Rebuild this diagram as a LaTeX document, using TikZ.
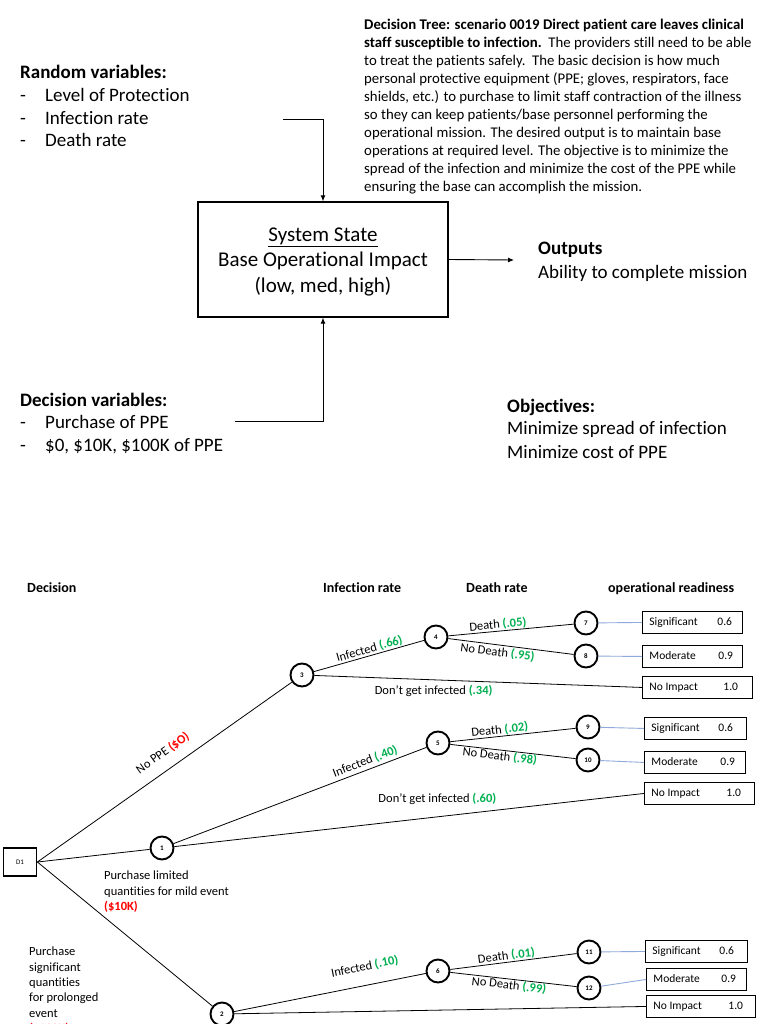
\documentclass[tikz,border=0pt]{standalone}
\usepackage{fontspec}
\setmainfont{Carlito}[Ligatures=NoCommon]
\usetikzlibrary{arrows.meta}
\definecolor{pgreen}{RGB}{0,176,80}
\definecolor{pred}{RGB}{255,0,0}
\definecolor{pblue}{RGB}{143,170,220}
\newcommand\greenval[1]{\textcolor{pgreen}{\bfseries #1}}
\newcommand\redval[1]{\textcolor{pred}{\bfseries #1}}
\newcommand\resbox[7]{%
  \node[rbox, anchor=north west] (#1) at (#2,#3) {\makebox[#4pt][l]{\hspace{7pt}\makebox[#5pt][l]{#6}#7}};}
\tikzset{
  chancenode/.style={circle, draw, line width=1.9pt, minimum size=23pt, inner sep=0pt, font=\bfseries\fontsize{7}{8}\selectfont},
  decbox/.style={rectangle, draw, line width=1.8pt, minimum width=33pt, minimum height=28pt, inner sep=0pt, font=\fontsize{7}{8}\selectfont},
  rbox/.style={rectangle, draw, line width=0.9pt, inner sep=0pt, minimum height=22pt, text height=8pt, text depth=2.5pt, font=\fontsize{11.5}{13}\selectfont},
  treeline/.style={draw, line width=0.8pt},
  bluelink/.style={draw=pblue, line width=0.9pt},
  lbl/.style={font=\fontsize{12.5}{15.3}\selectfont, inner sep=0.5pt},
  hdr/.style={font=\bfseries\fontsize{14}{17}\selectfont, anchor=west, inner sep=0pt, text height=10pt, text depth=3pt},
  bigtxt/.style={font=\fontsize{19}{23}\selectfont, anchor=base west, inner sep=0pt},
  bigbold/.style={font=\bfseries\fontsize{19}{23}\selectfont, anchor=base west, inner sep=0pt},
  arr/.style={-{Latex[length=6pt,width=5pt]}, line width=0.9pt},
}
\begin{document}
\begin{tikzpicture}[x=1pt,y=-1pt]
\useasboundingbox[fill=white] (0,0) rectangle (768,1024);

% ---------- upper part ----------
\node[anchor=north west, inner sep=0pt, align=left, font=\fontsize{14.8}{18}\selectfont] (desc) at (364,19)
{\textbf{Decision Tree: scenario 0019 Direct patient care leaves clinical}\\
\textbf{staff susceptible to infection.}\ \ The providers still need to be able\\
to treat the patients safely.\ \ The basic decision is how much\\
personal protective equipment (PPE; gloves, respirators, face\\
shields, etc.) to purchase to limit staff contraction of the illness\\
so they can keep patients/base personnel performing the\\
operational mission. The desired output is to maintain base\\
operations at required level. The objective is to minimize the\\
spread of the infection and minimize the cost of the PPE while\\
ensuring the base can accomplish the mission.};

\node[bigbold] (rvt) at (20,79) {Random variables:};
\node[bigtxt] (rv1) at (20,102) {\makebox[25pt][l]{-}Level of Protection};
\node[bigtxt] (rv2) at (20,125) {\makebox[25pt][l]{-}Infection rate};
\node[bigtxt] (rv3) at (20,147) {\makebox[25pt][l]{-}Death rate};

\node[bigbold] (dvt) at (20,406) {Decision variables:};
\node[bigtxt] (dv1) at (20,428) {\makebox[25pt][l]{-}Purchase of PPE};
\node[bigtxt] (dv2) at (20,451) {\makebox[25pt][l]{-}\$0, \$10K, \$100K of PPE};

\node[bigbold] (objt) at (507,412) {Objectives:};
\node[bigtxt] (obj1) at (507,434) {Minimize spread of infection};
\node[bigtxt] (obj2) at (507,458) {Minimize cost of PPE};

\node[bigbold] (outt) at (538,254) {Outputs};
\node[bigtxt] (out1) at (538,278) {Ability to complete mission};

\node[draw, line width=1.3pt, minimum width=250pt, minimum height=115pt, inner sep=0pt] (sys) at (323,259.5) {};
\node[align=center, inner sep=0pt, font=\fontsize{21}{25.5}\selectfont] (systxt) at (323,261.5)
      {\underline{System State}\\Base Operational Impact\\(low, med, high)};

\coordinate (rvA) at (283,119);
\coordinate (dvA) at (235,421);
\coordinate (outA) at (514,260);
\draw[arr] (rvA) -| (sys.north);
\draw[arr] (dvA) -| (sys.south);
\draw[arr] (sys.east) -- (outA);

% ---------- decision tree ----------
\node[hdr] (h1) at (27,589) {Decision};
\node[hdr] (h2) at (323,589) {Infection rate};
\node[hdr] (h3) at (466,589) {Death rate};
\node[hdr] (h4) at (608,589) {operational readiness};

\node[decbox] (d1) at (20,862) {D1};
\node[chancenode] (c1) at (162,848) {1};
\node[chancenode] (c2) at (222,1014) {2};
\node[chancenode] (c3) at (302,675) {3};
\node[chancenode] (c4) at (436,637) {4};
\node[chancenode] (c5) at (438,743) {5};
\node[chancenode] (c6) at (438,971) {6};
\node[chancenode] (c7) at (586,623) {7};
\node[chancenode] (c8) at (586,656) {8};
\node[chancenode] (c9) at (588,727) {9};
\node[chancenode] (c10) at (588,760) {10};
\node[chancenode] (c11) at (589,952) {11};
\node[chancenode] (c12) at (589,988) {12};

\resbox{sig1}{642}{611}{100}{68}{Significant}{0.6}
\resbox{mod1}{642}{645}{100}{69}{Moderate}{0.9}
\resbox{noi1}{642}{676}{110}{74}{No Impact}{1.0}
\resbox{sig2}{644}{717}{102}{67}{Significant}{0.6}
\resbox{mod2}{644}{751}{101}{69}{Moderate}{0.9}
\resbox{noi2}{644}{782}{110}{75}{No Impact}{1.0}
\resbox{sig3}{645}{940}{102}{67}{Significant}{0.6}
\resbox{mod3}{646}{968}{100}{68}{Moderate}{0.9}
\resbox{noi3}{646}{995}{109}{75}{No Impact}{1.0}

\draw[treeline] (d1.east) -- node[lbl, sloped, above=10pt, pos=0.53] {No PPE \redval{(\$O)}} (c3);
\draw[treeline] (d1.east) -- (c1);
\draw[treeline] (d1.east) -- (c2);

\draw[treeline] (c3) -- node[lbl, sloped, above=0pt, pos=0.52] {Infected \greenval{(.66)}} (c4);
\draw[treeline] (c3) -- node[lbl, below=4pt, pos=0.364] {Don’t get infected \greenval{(.34)}} (noi1.west);
\draw[treeline] (c4) -- node[lbl, sloped, above=0pt, pos=0.4] {Death \greenval{(.05)}} (c7);
\draw[treeline] (c4) -- node[lbl, sloped, below=1pt, pos=0.4] {No Death \greenval{(.95)}} (c8);
\draw[bluelink] (c7) -- (sig1.west);
\draw[bluelink] (c8) -- (mod1.west);

\draw[treeline] (c1) -- node[lbl, sloped, above=2pt, pos=0.77] {Infected \greenval{(.40)}} (c5);
\draw[treeline] (c1) -- node[lbl, above=11pt, pos=0.56] {Don’t get infected \greenval{(.60)}} (noi2.west);
\draw[treeline] (c5) -- node[lbl, sloped, above=0pt, pos=0.4] {Death \greenval{(.02)}} (c9);
\draw[treeline] (c5) -- node[lbl, sloped, below=0pt, pos=0.4] {No Death \greenval{(.98)}} (c10);
\draw[bluelink] (c9) -- (sig2.west);
\draw[bluelink] (c10) -- (mod2.west);

\draw[treeline] (c2) -- node[lbl, sloped, above=12pt, pos=0.7] {Infected \greenval{(.10)}} (c6);
\draw[treeline] (c2) -- (noi3.west);
\draw[treeline] (c6) -- node[lbl, sloped, above=0pt, pos=0.45] {Death \greenval{(.01)}} (c11);
\draw[treeline] (c6) -- node[lbl, sloped, below=0pt, pos=0.47] {No Death \greenval{(.99)}} (c12);
\draw[bluelink] (c11) -- (sig3.west);
\draw[bluelink] (c12) -- (mod3.west);

\node[lbl, anchor=north west, inner sep=0pt, align=left] (lim) at (104,871)
  {Purchase limited\\quantities for mild event\\\redval{(\$10K)}};
\node[lbl, anchor=north west, inner sep=0pt, align=left] (sigq) at (29,947)
  {Purchase\\significant\\quantities\\for prolonged\\event\\\redval{(\$100K)}};
\end{tikzpicture}
\end{document}
